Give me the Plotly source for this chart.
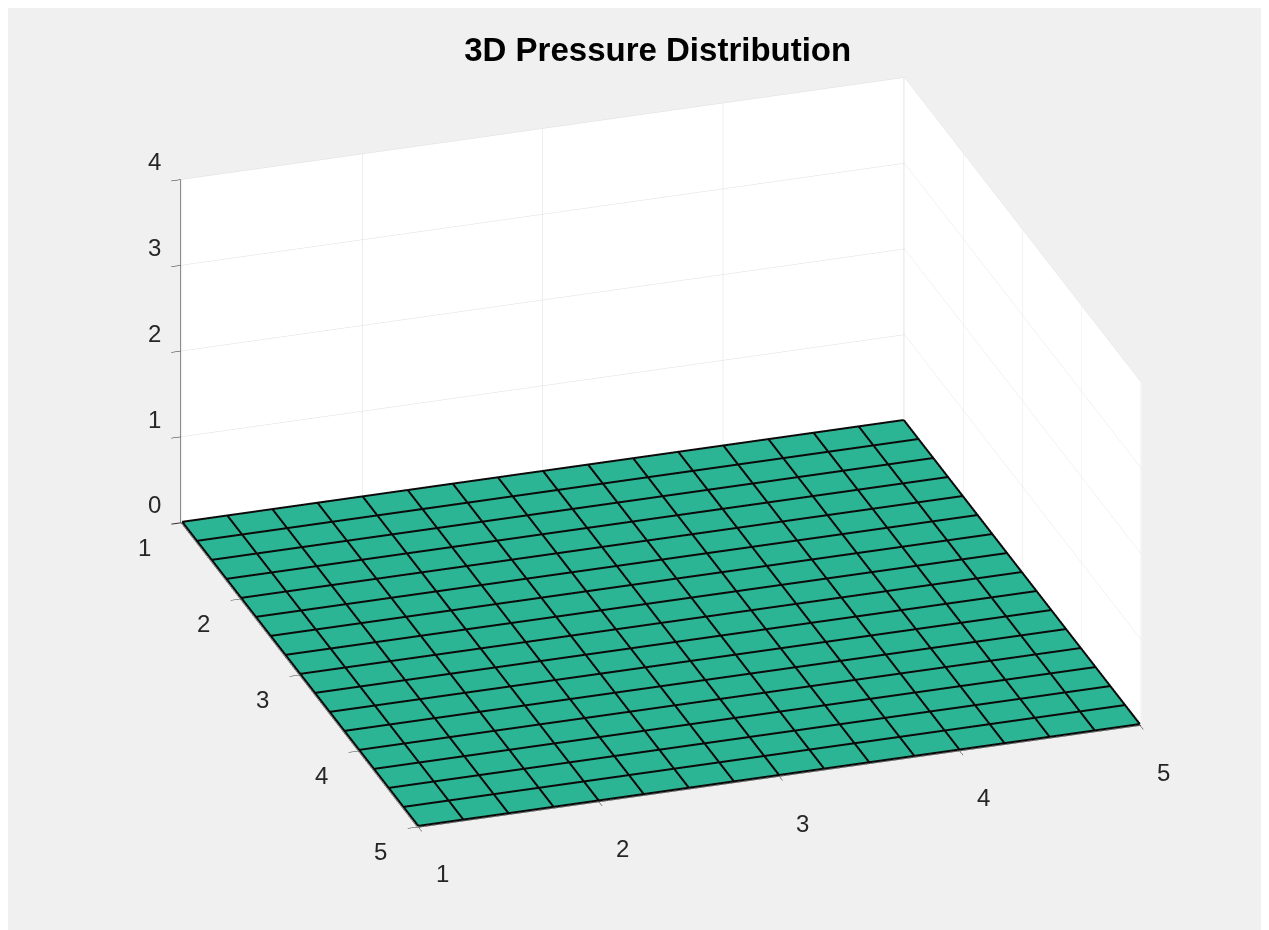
import numpy as np
import plotly.graph_objects as go

# Data
x_vals = [1.0, 1.25, 1.5, 1.75, 2.0, 2.25, 2.5, 2.75, 3.0, 3.25, 3.5, 3.75, 4.0, 4.25, 4.5, 4.75, 5.0]
y_vals = [1.0, 1.25, 1.5, 1.75, 2.0, 2.25, 2.5, 2.75, 3.0, 3.25, 3.5, 3.75, 4.0, 4.25, 4.5, 4.75, 5.0]
pressure = [[0.0] * len(x_vals) for _ in y_vals]
x_ticks = [1, 2, 3, 4, 5]
y_ticks = [1, 2, 3, 4, 5]
z_ticks = [0, 1, 2, 3, 4]
title_text = "3D Pressure Distribution"

teal = "rgb(44,181,148)"
P = np.array(pressure)
x_min, x_max = min(x_vals), max(x_vals)
y_min, y_max = min(y_vals), max(y_vals)
z_min, z_max = min(z_ticks), max(z_ticks)
pad = 0.006  # keeps edge lines from being clipped at the axis bounds

fig = go.Figure()
fig.add_trace(go.Surface(
    x=x_vals, y=y_vals, z=pressure,
    colorscale=[[0, teal], [1, teal]],
    showscale=False,
    lighting=dict(ambient=1.0, diffuse=0.0, specular=0.0, roughness=1.0, fresnel=0.0),
    contours=dict(
        x=dict(highlight=False),
        y=dict(highlight=False),
        z=dict(highlight=False),
    ),
    hoverinfo="skip",
))

# mesh edge lines (from the same grid / values), lifted a hair to avoid z-fighting
eps = 0.012
lx, ly, lz = [], [], []
for j, yv in enumerate(y_vals):
    for i, xv in enumerate(x_vals):
        lx.append(xv); ly.append(yv); lz.append(P[j, i] + eps)
    lx.append(None); ly.append(None); lz.append(None)
for i, xv in enumerate(x_vals):
    for j, yv in enumerate(y_vals):
        lx.append(xv); ly.append(yv); lz.append(P[j, i] + eps)
    lx.append(None); ly.append(None); lz.append(None)
fig.add_trace(go.Scatter3d(
    x=lx, y=ly, z=lz, mode="lines",
    line=dict(color="#0a0a0a", width=4),
    hoverinfo="skip", showlegend=False, connectgaps=False,
))

axis_common = dict(
    title=dict(text=""),
    showbackground=True,
    backgroundcolor="white",
    gridcolor="#dedede",
    gridwidth=1,
    zeroline=False,
    showline=True,
    linecolor="#262626",
    linewidth=1,
    ticks="outside",
    ticklen=10,
    tickcolor="#262626",
    showticklabels=False,
    showspikes=False,
)

# tick labels as scene annotations (upright text, MATLAB-like placement)
lab_font = dict(family="Liberation Sans, Arial, sans-serif", size=24, color="#262626")
annotations = []
for t in x_ticks:
    annotations.append(dict(x=t, y=y_max, z=z_min, text=str(t), showarrow=False,
                            xshift=24, yshift=-47, font=lab_font))
for t in y_ticks:
    annotations.append(dict(x=x_min, y=t, z=z_min, text=str(t), showarrow=False,
                            xshift=-38, yshift=-25, font=lab_font))
for t in z_ticks:
    annotations.append(dict(x=x_min, y=y_min, z=t, text=str(t), showarrow=False,
                            xshift=-28, yshift=18, font=lab_font))

k = 1.06
fig.update_layout(
    width=1269, height=930,
    paper_bgcolor="#f0f0f0",
    margin=dict(l=0, r=0, t=0, b=0),
    title=dict(text="<b>" + title_text + "</b>", x=0.512, y=0.955, xanchor="center", yanchor="middle",
               font=dict(family="Liberation Sans, Arial, sans-serif", size=33, color="#000000")),
    scene=dict(
        domain=dict(x=[0.029, 1.0], y=[0.044, 1.0]),
        xaxis=dict(axis_common, range=[x_min - pad, x_max + pad], tickvals=x_ticks),
        yaxis=dict(axis_common, range=[y_max + pad, y_min - pad], tickvals=y_ticks),
        zaxis=dict(axis_common, range=[z_min, z_max], tickvals=z_ticks),
        aspectmode="manual",
        aspectratio=dict(x=1.715, y=1.695, z=0.853),
        camera=dict(
            eye=dict(x=-0.284 * k, y=-0.858 * k, z=0.426 * k),
            up=dict(x=0, y=0, z=1),
            center=dict(x=0, y=0, z=0),
            projection=dict(type="orthographic"),
        ),
        annotations=annotations,
        bgcolor="rgba(0,0,0,0)",
    ),
)

fig.write_html("out.html")
